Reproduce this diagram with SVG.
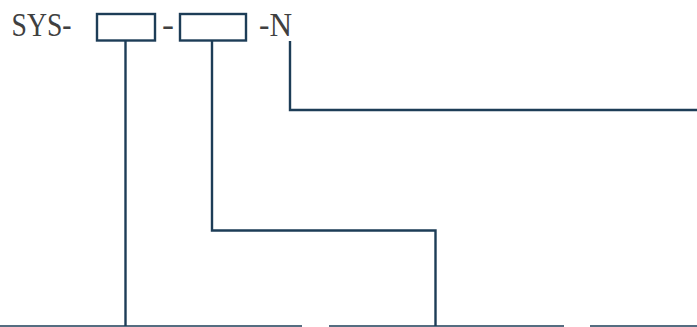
<svg xmlns="http://www.w3.org/2000/svg" width="697" height="327" viewBox="0 0 697 327">
<style>
.t{font-size:33px;fill:#404040}
.b{fill:none;stroke:#1d3d57;stroke-width:2.4}
.c{fill:none;stroke:#1d3d57;stroke-width:2.4}
.base{fill:none;stroke:#1d3d57;stroke-width:1.6}
</style>
<rect width="697" height="327" fill="#fff"/>
<g id="label-sys"><text class="t" font-family="'Liberation Serif', 'DejaVu Serif', serif" x="11.5" y="35.5" textLength="60" lengthAdjust="spacingAndGlyphs">SYS-</text></g>
<g id="box1"><rect class="b" x="97" y="14" width="58" height="26.5"/></g>
<g id="dash1"><text class="t" font-family="'Liberation Serif', 'DejaVu Serif', serif" x="162" y="35.5" textLength="12" lengthAdjust="spacingAndGlyphs">-</text></g>
<g id="box2"><rect class="b" x="180" y="14" width="66" height="26.5"/></g>
<g id="label-n"><text class="t" font-family="'Liberation Serif', 'DejaVu Serif', serif" x="259" y="35.5" textLength="33" lengthAdjust="spacingAndGlyphs">-N</text></g>
<g id="connectors">
<polyline class="c" points="125.5,40.5 125.5,326"/>
<polyline class="c" points="212,40.5 212,230.5 435.5,230.5 435.5,326"/>
<polyline class="c" points="290,41 290,110 697,110"/>
<line class="base" x1="0" y1="326" x2="302" y2="326"/>
<line class="base" x1="329" y1="326" x2="564" y2="326"/>
<line class="base" x1="590" y1="326" x2="697" y2="326"/>
</g>
</svg>
